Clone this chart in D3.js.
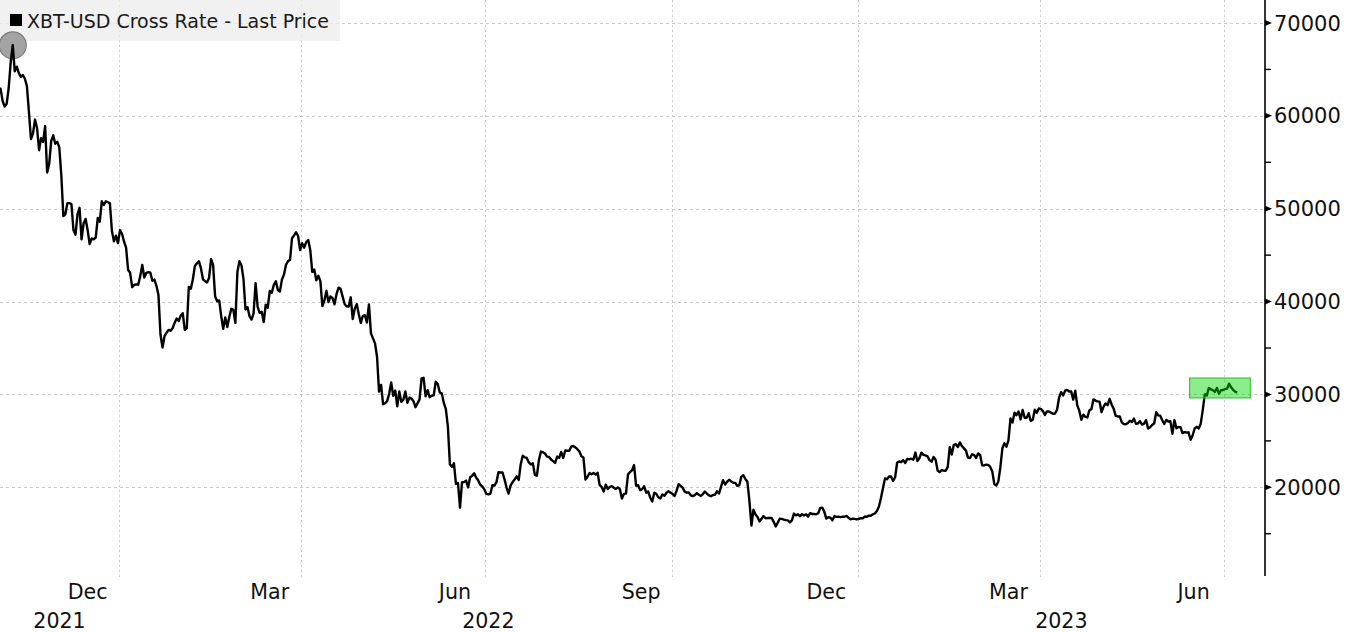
<!DOCTYPE html>
<html><head><meta charset="utf-8">
<script src="https://cdn.jsdelivr.net/npm/d3@7"></script>
<style>
html,body{margin:0;padding:0;background:#fff;overflow:hidden;}
svg{display:block;font-family:"DejaVu Sans",sans-serif;}
</style></head><body>
<svg id="chart" width="1346" height="632"></svg>
<script>
const seriesName = "XBT-USD Cross Rate - Last Price";

// daily closes, one sub-array per month (day 1 .. n)
const monthStarts = ["2021-11","2021-12","2022-01","2022-02","2022-03","2022-04","2022-05","2022-06",
  "2022-07","2022-08","2022-09","2022-10","2022-11","2022-12","2023-01","2023-02","2023-03","2023-04",
  "2023-05","2023-06","2023-07"];
const closeByMonth = [
  [61300,63000,62900,61600,61000,61300,63000,65800,67600,64800,65300,64600,64200,64400,64000,63200,60400,57500,58100,59600,58700,56300,57600,57200,58900,53900,54800,57300,57900,57000],
  [57200,56600,53600,49200,49400,50600,50600,50500,47700,47200,49400,50100,46700,48400,48900,47700,46200,46800,46700,46900,49000,48600,50800,50400,50800,50700,50600,47600,46500,47100,46300],
  [47700,47300,46450,45800,43400,43100,41550,41800,41850,41820,42740,43950,42590,43100,43180,43110,42250,42370,41700,40700,36450,35050,36280,36650,36950,36850,37140,37710,38170,37900,38480],
  [38740,36950,37150,41570,41380,42410,43840,44120,44340,43570,42400,42200,42060,42540,44580,43960,40540,40030,40120,38430,37070,38290,37260,38330,39220,39110,37700,43190],
  [44350,43920,42450,39150,39400,38420,38060,38740,41980,39440,38790,38900,37790,39670,39340,41140,40950,41800,42190,41250,41080,42360,42890,43960,44350,44500,46820,47130,47470,47060,45540],
  [46280,45810,46410,46620,45560,43200,43440,42290,42780,42210,39520,40130,41170,39940,40550,40400,39710,40830,41500,41370,40530,39740,39480,39470,40460,38120,39240,39740,38600,37710],
  [38470,38530,37750,39700,36580,36040,35500,34060,30300,31020,28940,29050,29280,30080,31300,29860,30420,28720,30310,29200,29430,30320,29100,29650,29560,29270,28630,29030,29470,31730,31790],
  [29800,30450,29700,29860,29900,31370,31130,30210,30110,29090,28420,26570,22490,22210,22580,20380,20470,17800,20550,20570,20720,19990,21080,21230,21500,21040,20730,20280,20100,19780],
  [19300,19250,19300,20230,20190,20550,21630,21590,21590,20850,19970,19330,20210,20570,20830,21190,20780,22490,23390,23230,23160,22680,22450,22580,21310,21250,22950,23850,23780,23640,23300],
  [23270,22990,22820,22620,23310,23180,23810,23160,23960,23940,23940,24400,24440,24300,24100,23850,23340,23210,20830,21140,21530,21400,21530,21370,21560,20240,20040,19550,20290,19810,20050],
  [20130,19950,19830,19990,19800,18790,19290,19320,21370,21650,21830,22400,20170,20230,19700,19800,20110,19420,19540,18880,18480,19410,19300,18930,18800,19220,19080,19410,19590,19420],
  [19310,19060,19620,20340,20160,19960,19530,19420,19450,19140,19050,19160,19380,19190,19070,19270,19550,19330,19130,19040,19170,19200,19570,19330,20090,20770,20290,20600,20810,20630,20490],
  [20480,20160,20210,21150,21300,20900,20600,18540,15880,17590,17070,16810,16330,16620,16900,16660,16690,16700,16700,16280,15780,16190,16610,16600,16520,16460,16440,16220,16440,17170],
  [16980,17090,16890,17110,16970,17090,16840,17220,17130,17130,17090,17210,17780,17810,17360,16630,16780,16740,16440,16900,16820,16830,16780,16840,16830,16920,16710,16550,16630,16600,16540],
  [16610,16670,16670,16850,16830,16950,16940,17090,17180,17440,17940,18850,19930,20950,20870,21170,21160,20690,21080,22670,22780,22710,22930,22620,23060,23010,23080,22970,23740,22830,23130],
  [23730,23490,23430,23330,22930,22760,23260,22960,21800,21630,21860,21790,21780,22200,24330,23530,24570,24640,24330,24830,24440,24190,23950,23190,23150,23550,23490,23150],
  [23650,23480,22360,22350,22430,22410,22200,21710,20360,20190,20630,22160,24200,24740,24380,25050,27420,26970,28040,27770,28170,27310,28330,27490,27490,27990,27140,27270,28350,28030,28480],
  [28450,28200,27790,28170,28170,28040,27920,27950,28330,29650,30240,29890,30400,30490,30320,30320,29440,30400,28820,28250,27280,27820,27590,27520,28300,28420,29470,29340,29250,29230],
  [28090,28680,29030,28850,29530,28900,28450,27690,27630,27630,26990,26800,26790,26930,27170,27030,27400,26830,26890,27120,26750,26850,27230,26330,26470,26720,26870,28090,27740,27710,27220],
  [26820,27250,27080,27120,25760,27240,26350,26500,26480,25840,25940,25900,25920,25120,25580,26330,26510,26340,26850,28310,30010,29890,30690,30550,30470,30270,30700,30080,30450,30480],
  [30590,30620,31160,30770,30500,30300,30200]
];

const yTicks = [20000, 30000, 40000, 50000, 60000, 70000];
const yMinorTicks = [15000, 25000, 35000, 45000, 55000, 65000];
const gridDates = ["2022-01-01","2022-04-01","2022-07-01","2022-10-01","2023-01-01","2023-04-01","2023-07-01"];
const monthLabelText = ["Dec","Mar","Jun","Sep","Dec","Mar","Jun"];
const monthLabelMonths = ["2021-12","2022-03","2022-06","2022-09","2022-12","2023-03","2023-06"];
const yearLabels = ["2021","2022","2023"];
const highlightDates = ["2023-06-14","2023-07-14"];
const highlightValues = [29620, 31770];

// ---- build data ----
function ym(s){ const [y,m]=s.split("-").map(Number); return [y, m-1]; }
function utc(s){ const p=s.split("-").map(Number); return new Date(Date.UTC(p[0],p[1]-1,p[2]||1)); }
const data = [];
monthStarts.forEach((ms, k) => {
  const [y, m] = ym(ms);
  closeByMonth[k].forEach((v, i) => data.push({date: new Date(Date.UTC(y, m, 1 + i, 12)), value: v}));
});

const W = 1346, H = 632;
const plotRight = 1265, plotBottom = 576;
const svg = d3.select("#chart");

const x = d3.scaleUtc().domain([utc("2022-01-01"), utc("2023-07-01")]).range([119, 1224]);
const y = d3.scaleLinear().domain([20000, 70000]).range([487.3, 23]);

svg.append("rect").attr("width", W).attr("height", H).attr("fill", "#fff");

// clip
svg.append("defs").append("clipPath").attr("id", "plotclip")
  .append("rect").attr("x", 0).attr("y", 0).attr("width", plotRight).attr("height", plotBottom);

const grid = svg.append("g");
grid.selectAll("line.h").data(yTicks).join("line")
  .attr("x1", 0).attr("x2", plotRight)
  .attr("y1", d => Math.round(y(d)) + 0.5).attr("y2", d => Math.round(y(d)) + 0.5)
  .attr("stroke", "#c9c9c9").attr("stroke-width", 1).attr("stroke-dasharray", "3,3");
grid.selectAll("line.v").data(gridDates).join("line")
  .attr("x1", d => Math.round(x(utc(d))) + 0.5).attr("x2", d => Math.round(x(utc(d))) + 0.5)
  .attr("y1", 0).attr("y2", plotBottom + 2)
  .attr("stroke", "#c9c9c9").attr("stroke-width", 1).attr("stroke-dasharray", "2,3");

// legend box
svg.append("rect").attr("x", 0).attr("y", 0).attr("width", 340).attr("height", 41)
  .attr("fill", "#ececec").attr("fill-opacity", 0.75);
svg.append("rect").attr("x", 10).attr("y", 14).attr("width", 12).attr("height", 12).attr("fill", "#000");
svg.append("text").attr("x", 27).attr("y", 27.5).attr("font-size", "19px").attr("fill", "#1a1a1a")
  .text(seriesName);

// max marker
const maxPt = data.reduce((a, b) => b.value > a.value ? b : a);
svg.append("circle").attr("cx", x(maxPt.date)).attr("cy", y(maxPt.value)).attr("r", 13.5)
  .attr("fill", "#a3a3a3").attr("stroke", "#7d7d7d").attr("stroke-width", 1.2);

// line
const line = d3.line().x(d => x(d.date)).y(d => y(d.value));
svg.append("path").datum(data).attr("clip-path", "url(#plotclip)")
  .attr("d", line).attr("fill", "none").attr("stroke", "#000").attr("stroke-width", 2.4)
  .attr("stroke-linejoin", "round");

// highlight box
const hx0 = x(utc(highlightDates[0])), hx1 = x(utc(highlightDates[1]));
svg.append("rect").attr("x", hx0).attr("y", y(highlightValues[1]))
  .attr("width", hx1 - hx0).attr("height", y(highlightValues[0]) - y(highlightValues[1]))
  .attr("fill", "rgb(0,215,0)").attr("fill-opacity", 0.45)
  .attr("stroke", "rgb(40,190,40)").attr("stroke-width", 1);

// y axis
const ax = svg.append("g");
ax.append("line").attr("x1", plotRight).attr("x2", plotRight).attr("y1", 0).attr("y2", plotBottom)
  .attr("stroke", "#000").attr("stroke-width", 1.6);
ax.selectAll("path.tk").data(yTicks).join("path")
  .attr("d", d => `M${plotRight},${y(d) - 3}L${plotRight + 7},${y(d)}L${plotRight},${y(d) + 3}Z`)
  .attr("fill", "#000");
ax.selectAll("line.mn").data(yMinorTicks).join("line")
  .attr("x1", plotRight).attr("x2", plotRight + 6)
  .attr("y1", d => y(d)).attr("y2", d => y(d))
  .attr("stroke", "#000").attr("stroke-width", 1.4);
ax.selectAll("text").data(yTicks).join("text")
  .attr("x", plotRight + 9).attr("y", d => y(d) + 7.6)
  .attr("font-size", "21px").attr("fill", "#111")
  .text(d3.format("d"));

// x labels
const xa = svg.append("g").attr("font-size", "20.6px").attr("fill", "#111").attr("text-anchor", "middle");
monthLabelMonths.forEach((ms, i) => {
  const [yy, mm] = ym(ms);
  const a = new Date(Date.UTC(yy, mm, 1)), b = new Date(Date.UTC(yy, mm + 1, 1));
  xa.append("text").attr("x", (x(a) + x(b)) / 2).attr("y", 599).text(monthLabelText[i]);
});
const visStart = x.invert(0), visEnd = x.invert(plotRight);
yearLabels.forEach(yr => {
  const a = new Date(Math.max(Date.UTC(+yr, 0, 1), +visStart));
  const b = new Date(Math.min(Date.UTC(+yr + 1, 0, 1), +visEnd));
  xa.append("text").attr("x", (x(a) + x(b)) / 2).attr("y", 628).text(yr);
});
</script>
</body></html>
